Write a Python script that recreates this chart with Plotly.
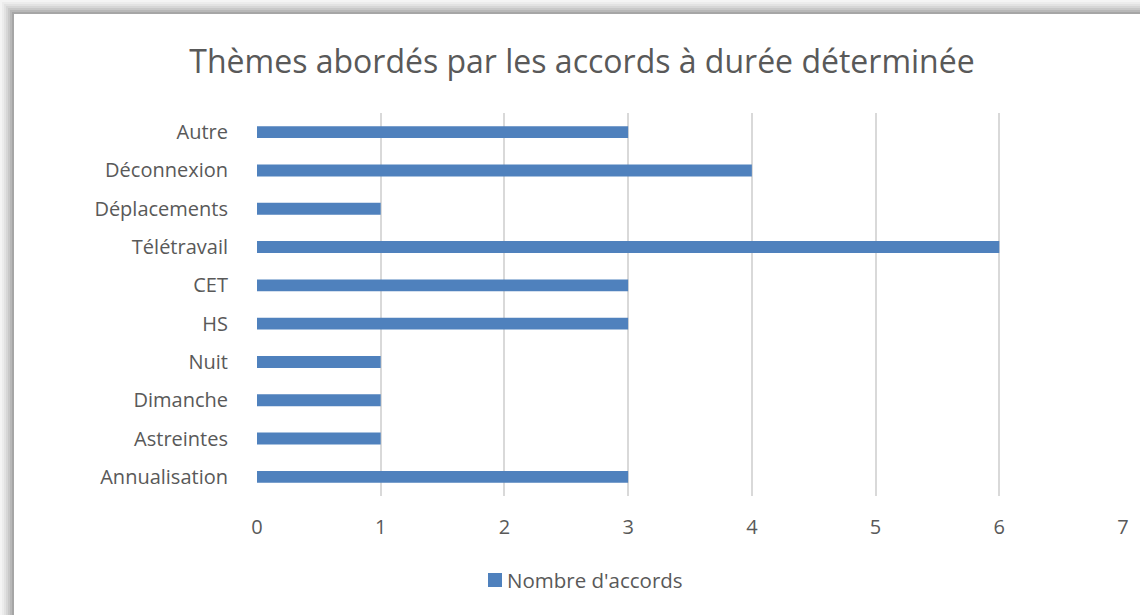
import plotly.graph_objects as go

# data (bottom to top)
themes = ['Annualisation', 'Astreintes', 'Dimanche', 'Nuit', 'HS', 'CET',
          'Télétravail', 'Déplacements', 'Déconnexion', 'Autre']
nb_accords = [3, 1, 1, 1, 3, 3, 6, 1, 4, 3]
x_ticks = [0, 1, 2, 3, 4, 5, 6, 7]
serie = "Nombre d'accords"

W, H = 1140, 615
L, R, T, B = 257, 17, 113, 119
PW, PH = W - L - R, H - T - B

def px2x(px):
    return (px - L) / PW

def px2y(py):
    return (H - B - py) / PH

font = 'Open Sans'
grey_txt = '#595959'
bar_col = '#4F81BD'

fig = go.Figure()

fig.add_trace(go.Bar(
    x=nb_accords,
    y=themes,
    orientation='h',
    name=serie,
    marker=dict(color=bar_col, line=dict(width=0)),
))

# shadow frame round the chart (left and top edges)
shades = ['#f4f4f4', '#ececec', '#e2e2e2', '#d6d6d6', '#c8c8c8', '#b8b8b8', '#a6a6a6']
shapes = []
step = 2
for i, col in enumerate(shades):
    a = i * step
    shapes.append(dict(type='rect', xref='paper', yref='paper', layer='below',
                       x0=px2x(a), x1=px2x(a + step), y0=px2y(H + 5), y1=px2y(a),
                       fillcolor=col, line=dict(width=0)))
    shapes.append(dict(type='rect', xref='paper', yref='paper', layer='below',
                       x0=px2x(a), x1=px2x(W + 5), y0=px2y(a + step), y1=px2y(a),
                       fillcolor=col, line=dict(width=0)))

# legend drawn by hand (Excel style square + label)
shapes.append(dict(type='rect', xref='paper', yref='paper',
                   x0=px2x(488), x1=px2x(502), y0=px2y(587), y1=px2y(573),
                   fillcolor=bar_col, line=dict(width=0)))

fig.update_layout(
    width=W, height=H,
    margin=dict(l=L, r=R, t=T, b=B),
    paper_bgcolor='white',
    plot_bgcolor='white',
    shapes=shapes,
    annotations=[dict(text=serie, xref='paper', yref='paper',
                      x=px2x(505), xanchor='left', y=px2y(580), yanchor='middle',
                      showarrow=False,
                      font=dict(family=font, size=20.5, color=grey_txt))],
    title=dict(text='Thèmes abordés par les accords à durée déterminée',
               font=dict(family=font, size=32, color=grey_txt),
               x=px2x(582), xanchor='center', xref='paper',
               y=1 - 62 / H, yanchor='middle', yref='container'),
    bargap=0.69,
    xaxis=dict(range=[0, 7], tickvals=x_ticks, showgrid=True, gridcolor='#d9d9d9',
               gridwidth=1.5, zeroline=False, showline=False,
               tickfont=dict(family=font, size=20, color=grey_txt),
               ticklabelstandoff=17),
    yaxis=dict(showgrid=False, showline=False, zeroline=False,
               tickfont=dict(family=font, size=20, color=grey_txt),
               ticklabelstandoff=28),
    showlegend=False,
)

fig.write_html('out.html', config={'displayModeBar': False},
               post_script="document.body.style.margin='0';")
